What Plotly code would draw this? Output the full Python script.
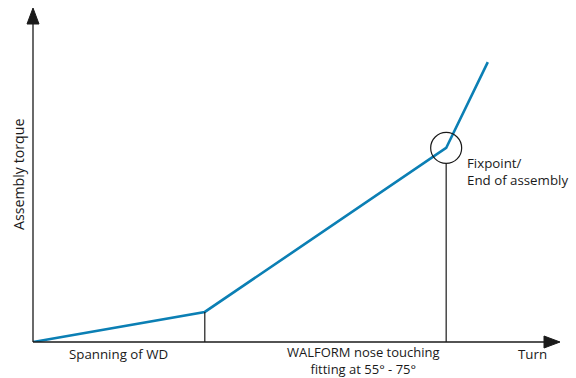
import plotly.graph_objects as go

# Assembly torque curve (schematic): turn vs torque, arbitrary units 0..100
turn = [0.0, 32.6, 78.4, 86.3]
torque = [0.0, 9.0, 58.1, 83.8]

# Key events along the curve
spanning_turn, spanning_torque = turn[1], torque[1]
fix_turn, fix_torque = turn[2], torque[2]

x_label = "Turn"
y_label = "Assembly torque"
span_label = "Spanning of WD"
nose_label = "WALFORM nose touching<br>fitting at 55° - 75°"
fix_label = "Fixpoint/<br>End of assembly"

W, H = 576, 378
ML, MR, MT, MB = 33, 16, 8, 36
PW, PH = W - ML - MR, H - MT - MB
XR, YR = [0, 100], [0, 100]

FONT = "Open Sans"
INK = "#1a1a1a"
BLUE = "#0b7fb4"
RING_R = 15.5  # px

fig = go.Figure()
fig.add_trace(go.Scatter(x=turn, y=torque, mode="lines",
                         line=dict(color=BLUE, width=2.6),
                         hoverinfo="skip", cliponaxis=False))

shapes = []
# axes
shapes.append(dict(type="line", xref="paper", yref="paper", x0=0, y0=0, x1=0.975, y1=0,
                   line=dict(color=INK, width=1.3)))
shapes.append(dict(type="line", xref="paper", yref="paper", x0=0, y0=0, x1=0, y1=0.96,
                   line=dict(color=INK, width=1.3)))
# arrow heads
ax_len, ax_half = 16 / PW, 6 / PH
shapes.append(dict(type="path", xref="paper", yref="paper",
                   path=f"M 1 0 L {1-ax_len} {ax_half} L {1-ax_len} {-ax_half} Z",
                   fillcolor=INK, line=dict(color=INK, width=1)))
ay_len, ay_half = 16 / PH, 6 / PW
shapes.append(dict(type="path", xref="paper", yref="paper",
                   path=f"M 0 1 L {-ay_half} {1-ay_len} L {ay_half} {1-ay_len} Z",
                   fillcolor=INK, line=dict(color=INK, width=1)))
# drop lines
shapes.append(dict(type="line", xref="x", yref="y", x0=spanning_turn, x1=spanning_turn,
                   y0=0, y1=spanning_torque, line=dict(color=INK, width=1.2)))
ring_dy = RING_R * (YR[1] - YR[0]) / PH
shapes.append(dict(type="line", xref="x", yref="y", x0=fix_turn, x1=fix_turn,
                   y0=0, y1=fix_torque - ring_dy, line=dict(color=INK, width=1.2)))
# ring around the fixpoint
shapes.append(dict(type="circle", xref="x", yref="y", xsizemode="pixel", ysizemode="pixel",
                   xanchor=fix_turn, yanchor=fix_torque,
                   x0=-RING_R, x1=RING_R, y0=-RING_R, y1=RING_R,
                   line=dict(color=INK, width=1.2)))

fs = 13.3
ann = [
    dict(x=spanning_turn / 2, y=0, xref="x", yref="paper", text=span_label,
         xanchor="center", yanchor="top", yshift=-1, showarrow=False),
    dict(x=62.8, y=0, xref="x", yref="paper", text=nose_label,
         font=dict(size=13), xanchor="center", yanchor="top", yshift=1, showarrow=False),
    dict(x=94.7, y=0, xref="x", yref="paper", text=x_label,
         xanchor="center", yanchor="top", yshift=-1, showarrow=False),
    dict(x=fix_turn, y=fix_torque, xref="x", yref="y", text=fix_label, align="left",
         xanchor="left", yanchor="middle", xshift=19, yshift=-23.5, showarrow=False),
    dict(x=0, y=0.5, xref="paper", yref="paper", text=y_label, textangle=-90,
         font=dict(size=14.2), xanchor="center", yanchor="middle",
         xshift=-15, yshift=0, showarrow=False),
]

fig.update_layout(
    width=W, height=H, autosize=False,
    margin=dict(l=ML, r=MR, t=MT, b=MB, pad=0),
    paper_bgcolor="white", plot_bgcolor="white",
    showlegend=False,
    font=dict(family=FONT, size=fs, color=INK),
    xaxis=dict(range=XR, visible=False, fixedrange=True),
    yaxis=dict(range=YR, visible=False, fixedrange=True),
    shapes=shapes, annotations=ann,
)

fig.write_html("out.html")
